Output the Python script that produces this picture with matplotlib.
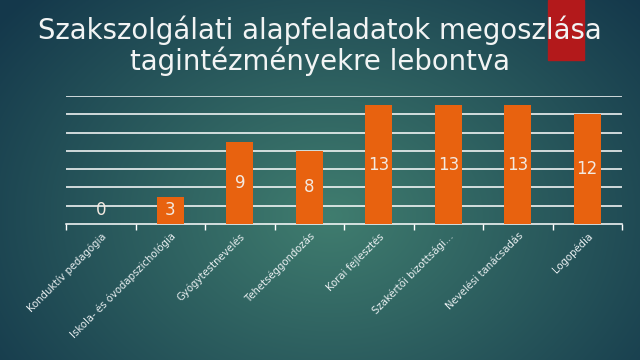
import numpy as np
import matplotlib
matplotlib.use("Agg")
import matplotlib.pyplot as plt
from matplotlib.patches import Rectangle

categories = ["Konduktív pedagógia", "Iskola- és óvodapszichológia", "Gyógytestnevelés",
              "Tehetséggondozás", "Korai fejlesztés", "Szakértői bizottsági…",
              "Nevelési tanácsadás", "Logopédia"]
values = [0, 3, 9, 8, 13, 13, 13, 12]
title = "Szakszolgálati alapfeladatok megoszlása\ntagintézményekre lebontva"

W, H = 640, 360
fig = plt.figure(figsize=(6.4, 3.6), dpi=100)

# background radial gradient
bg = fig.add_axes([0, 0, 1, 1])
yy, xx = np.mgrid[0:H, 0:W]
cx, cy = 330, 215
r = np.sqrt(((xx - cx) / 420.0) ** 2 + ((yy - cy) / 320.0) ** 2)
r = np.clip(r, 0, 1)
c_in = np.array([0x40, 0x7d, 0x6f]) / 255.0
c_out = np.array([0x14, 0x38, 0x4b]) / 255.0
img = c_in[None, None, :] * (1 - r[..., None]) + c_out[None, None, :] * r[..., None]
bg.imshow(img, extent=[0, W, H, 0], aspect="auto")
bg.add_patch(Rectangle((548, 0), 36, 60, color="#b3191b", zorder=2))
bg.set_xlim(0, W)
bg.set_ylim(H, 0)
bg.axis("off")

ax = fig.add_axes([66 / W, 1 - 224 / H, (622 - 66) / W, (224 - 96) / H])
ax.patch.set_alpha(0)
x = np.arange(len(categories))
ax.bar(x, values, width=0.39, color="#e8620f", zorder=3)
ax.set_xlim(-0.5, len(categories) - 0.5)
ax.set_ylim(0, 14)
for yv in range(2, 15, 2):
    ax.axhline(yv, color="white", lw=1.1, zorder=1)
for s in ["top", "right", "left"]:
    ax.spines[s].set_visible(False)
ax.spines["bottom"].set_color("white")
ax.spines["bottom"].set_linewidth(1.1)
ax.set_yticks([])
ax.set_xticks(np.arange(-0.5, len(categories), 1.0))
ax.set_xticklabels([])
ax.tick_params(axis="x", direction="out", length=4, color="white", width=1)
ax.set_xticks(x, minor=True)
ax.set_xticklabels(categories, minor=True, rotation=45, ha="right", va="top",
                   rotation_mode="anchor", color="#e8eef0", fontsize=7.3)
ax.tick_params(axis="x", which="minor", length=0, pad=5)

for xi, v in zip(x, values):
    ypos = v / 2 if v > 0 else 1.5
    ax.text(xi, ypos, str(v), ha="center", va="center", color="#f3e9e0", fontsize=12, zorder=4)

fig.text(0.5, 1 - 46 / H, title, ha="center", va="center", color="#f2f4f4",
         fontsize=19.8, linespacing=1.05)

fig.savefig("out.png", dpi=100)
